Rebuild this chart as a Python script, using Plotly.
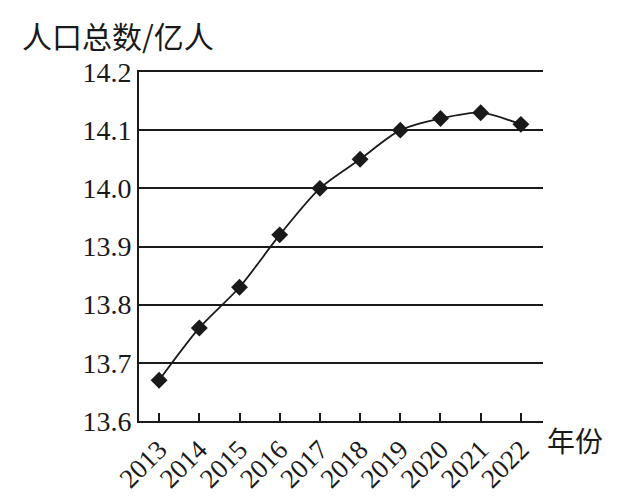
import plotly.graph_objects as go

years = ["2013", "2014", "2015", "2016", "2017", "2018", "2019", "2020", "2021", "2022"]
population = [13.67, 13.76, 13.83, 13.92, 14.00, 14.05, 14.10, 14.12, 14.13, 14.11]
y_ticks = [13.6, 13.7, 13.8, 13.9, 14.0, 14.1, 14.2]
y_tick_text = ["13.6", "13.7", "13.8", "13.9", "14.0", "14.1", "14.2"]

serif = "Liberation Serif, Times New Roman, serif"
cjk = "Noto Sans CJK SC, sans-serif"

fig = go.Figure()
fig.add_trace(go.Scatter(
    x=list(range(len(years))), y=population,
    mode="lines+markers",
    line=dict(color="#1a1a1a", width=1.8, shape="spline", smoothing=0.8),
    marker=dict(symbol="diamond", size=13, color="#1a1a1a"),
    showlegend=False,
))

fig.update_layout(
    width=610, height=494,
    margin=dict(l=131, r=75, t=64, b=81),
    paper_bgcolor="white", plot_bgcolor="white",
    font=dict(family=serif, color="#1a1a1a", size=22),
    xaxis=dict(
        range=[-0.5, 9.55], automargin=False,
        tickmode="array", tickvals=list(range(len(years))), ticktext=years,
        tickangle=-45, ticks="inside", ticklen=8, tickwidth=1.5, tickcolor="#1a1a1a",
        showline=True, mirror=True, linecolor="#1a1a1a", linewidth=2,
        showgrid=False, zeroline=False,
        tickfont=dict(family=serif, size=27),
    ),
    yaxis=dict(
        range=[13.6, 14.2], automargin=False,
        tickmode="array", tickvals=y_ticks, ticktext=y_tick_text,
        showline=True, linecolor="#1a1a1a", linewidth=2,
        showgrid=True, gridcolor="#1a1a1a", gridwidth=2,
        ticks="", zeroline=False,
        tickfont=dict(family=serif, size=28),
    ),
    annotations=[
        dict(text="人口总数/亿人", xref="paper", yref="paper", x=-0.295, y=1.0,
             xanchor="left", yanchor="middle", yshift=37, showarrow=False,
             font=dict(family=cjk, size=30, color="#1a1a1a")),
        dict(text="年份", xref="paper", yref="paper", x=1.0, y=0.0,
             xanchor="left", yanchor="middle", xshift=2, yshift=-19, showarrow=False,
             font=dict(family=cjk, size=28, color="#1a1a1a")),
    ],
)

fig.write_html("out.html")
